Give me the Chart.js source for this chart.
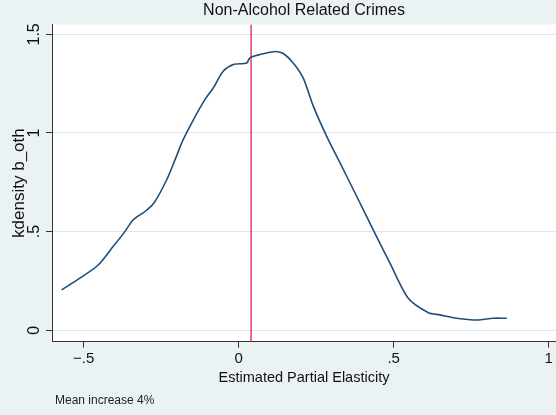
<!DOCTYPE html>
<html>
<head>
<meta charset="utf-8">
<script src="https://cdn.jsdelivr.net/npm/chart.js@4"></script>
<style>
  html, body { margin: 0; padding: 0; background: #eaf2f3; }
  #wrap { width: 556px; height: 415px; }
</style>
</head>
<body>
<div id="wrap"><canvas id="myChart" width="556" height="415"></canvas></div>
<script>
// kdensity curve
const elasticity = [-0.571, -0.512, -0.453, -0.405, -0.367, -0.340, -0.302, -0.272, -0.232, -0.205,
    -0.179, -0.146, -0.109, -0.082, -0.050, -0.017, 0.026, 0.036, 0.069, 0.101, 0.120, 0.144,
    0.176, 0.208, 0.241, 0.284, 0.327, 0.381, 0.434, 0.488, 0.547, 0.612, 0.649, 0.703, 0.768,
    0.821, 0.865];
const density = [0.205, 0.264, 0.331, 0.424, 0.500, 0.560, 0.602, 0.648, 0.763, 0.865,
    0.966, 1.067, 1.169, 1.228, 1.313, 1.347, 1.355, 1.381, 1.398, 1.409, 1.413, 1.403,
    1.355, 1.279, 1.135, 0.983, 0.848, 0.678, 0.509, 0.340, 0.162, 0.089, 0.078, 0.061, 0.052,
    0.061, 0.061];

// mean line
const meanIncrease = 0.04;

const xTicks = [-0.5, 0, 0.5, 1];
const xTickLabels = ['\u2212.5', '0', '.5', '1'];
const yTicks = [0, 0.5, 1, 1.5];
const yTickLabels = ['0', '.5', '1', '1.5'];

const yMin = -0.058, yMax = 1.55;
const xMin = -0.602, xMax = 1.0235;

const curve = elasticity.map((x, i) => ({ x: x, y: density[i] }));
const meanLine = [{ x: meanIncrease, y: yMin }, { x: meanIncrease, y: yMax }];

const FONT = "'Liberation Sans', Arial, sans-serif";

// stata-like background and note
const backdrop = {
    id: 'backdrop',
    beforeDraw(chart) {
        const { ctx, chartArea: a } = chart;
        ctx.save();
        ctx.fillStyle = '#eaf2f3';
        ctx.fillRect(0, 0, chart.width, chart.height);
        ctx.fillStyle = '#ffffff';
        ctx.fillRect(a.left, a.top, a.right - a.left, a.bottom - a.top);
        ctx.restore();
    },
    afterDraw(chart) {
        const ctx = chart.ctx;
        ctx.save();
        ctx.font = '12px ' + FONT;
        ctx.fillStyle = '#222';
        ctx.textBaseline = 'alphabetic';
        ctx.fillText('Mean increase 4%', 55, 404);
        ctx.restore();
    }
};

const ctx = document.getElementById('myChart').getContext('2d');
new Chart(ctx, {
    type: 'line',
    data: {
        datasets: [{
            data: curve,
            borderColor: '#1f4e7a',
            borderWidth: 1.6,
            pointRadius: 0,
            tension: 0.25,
            fill: false
        }, {
            data: meanLine,
            borderColor: '#d9234f',
            borderWidth: 1.3,
            pointRadius: 0,
            tension: 0,
            fill: false
        }]
    },
    options: {
        responsive: false,
        animation: false,
        devicePixelRatio: 1,
        layout: { padding: { left: 0, right: 0, top: 0, bottom: 25.3 } },
        plugins: {
            legend: { display: false },
            tooltip: { enabled: false },
            title: {
                display: true,
                text: 'Non-Alcohol Related Crimes',
                fullSize: false,
                color: '#111',
                font: { family: FONT, size: 16, weight: 'normal' },
                padding: { top: 1, bottom: 4.3 }
            }
        },
        scales: {
            x: {
                type: 'linear',
                min: xMin,
                max: xMax,
                afterBuildTicks: s => { s.ticks = xTicks.map(v => ({ value: v })); },
                afterFit: s => { s.height = 48; },
                ticks: {
                    color: '#111',
                    font: { family: FONT, size: 15 },
                    padding: 2.6,
                    maxRotation: 0,
                    autoSkip: false,
                    callback: v => xTickLabels[xTicks.indexOf(v)]
                },
                grid: { drawOnChartArea: false, drawTicks: true, tickLength: 6, tickColor: '#333' },
                border: { color: '#333', width: 1 },
                title: {
                    display: true,
                    text: 'Estimated Partial Elasticity',
                    color: '#111',
                    font: { family: FONT, size: 14.5 },
                    padding: { top: 0, bottom: 3.3 }
                }
            },
            y: {
                type: 'linear',
                min: yMin,
                max: yMax,
                afterBuildTicks: s => { s.ticks = yTicks.map(v => ({ value: v })); },
                afterFit: s => { s.width = 52; },
                ticks: {
                    color: '#111',
                    font: { family: FONT, size: 16 },
                    padding: 0.7,
                    minRotation: 90,
                    maxRotation: 90,
                    crossAlign: 'center',
                    autoSkip: false,
                    callback: v => yTickLabels[yTicks.indexOf(v)]
                },
                grid: { color: '#dde8ee', lineWidth: 1, tickLength: 6, tickColor: '#333' },
                border: { color: '#333', width: 1 },
                title: {
                    display: true,
                    text: 'kdensity b_oth',
                    color: '#111',
                    font: { family: FONT, size: 17 },
                    padding: { top: 8.9, bottom: 0 }
                }
            }
        }
    },
    plugins: [backdrop]
});
</script>
</body>
</html>
